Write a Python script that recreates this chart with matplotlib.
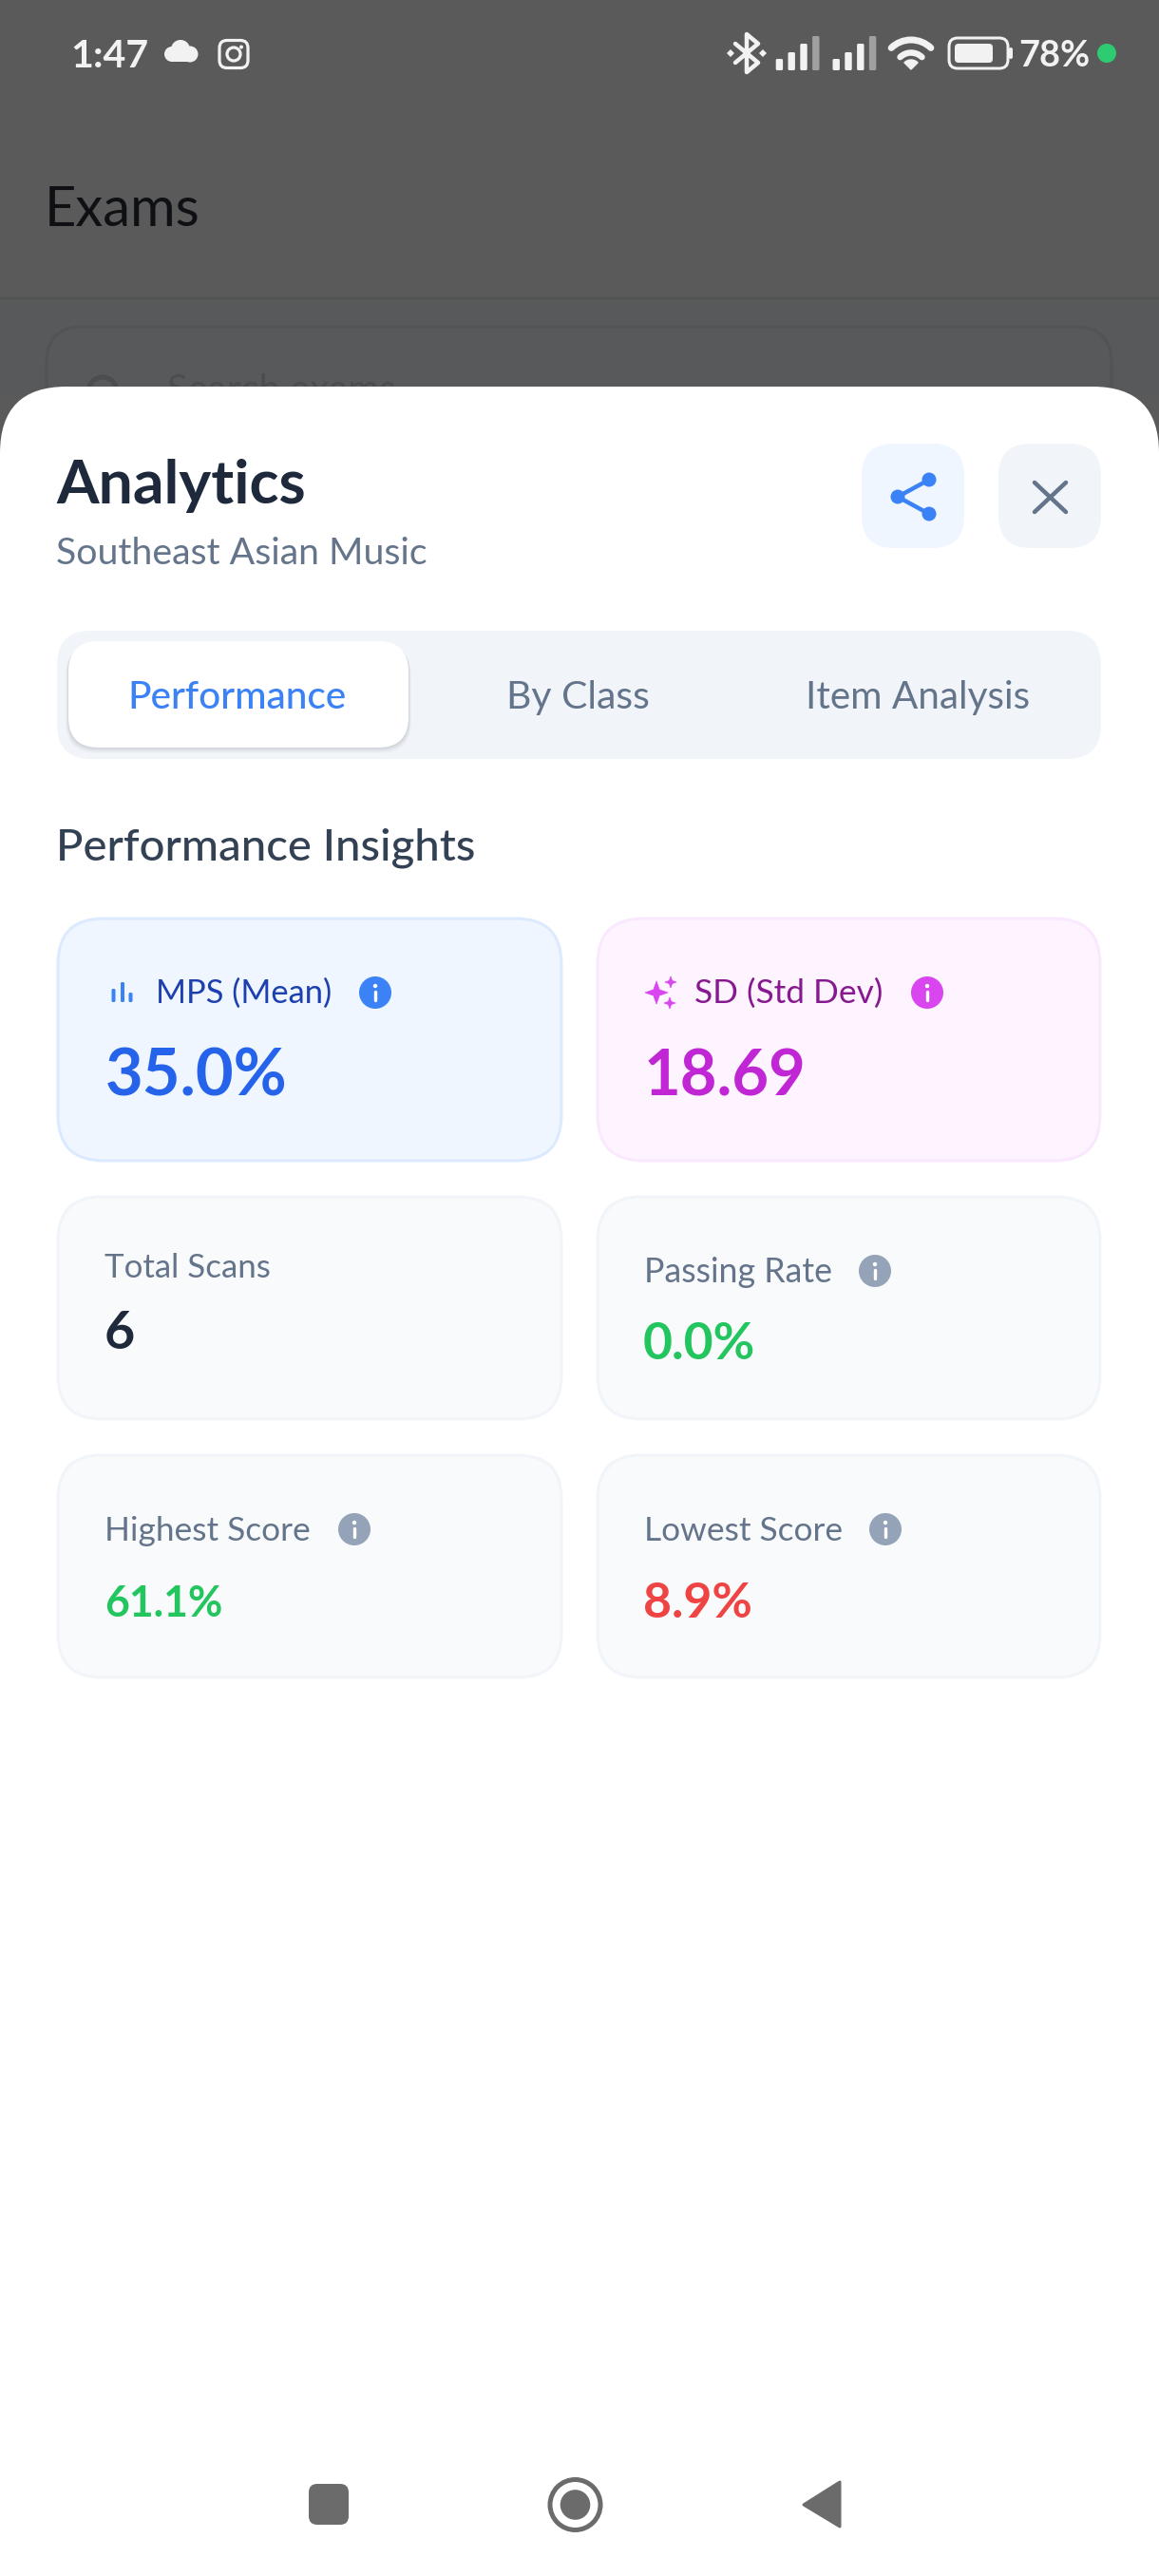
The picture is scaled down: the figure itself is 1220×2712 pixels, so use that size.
import matplotlib
matplotlib.use("Agg")
import matplotlib.pyplot as plt
from matplotlib.patches import FancyBboxPatch, Circle, Polygon, Arc, Wedge, Rectangle
from matplotlib.textpath import TextPath
from matplotlib.font_manager import FontProperties

# ---- content ----
status_time = "1:47"
battery_pct = 78
screen_title = "Exams"
search_hint = "Search exams"
sheet_title = "Analytics"
sheet_subtitle = "Southeast Asian Music"
tab_labels = ["Performance", "By Class", "Item Analysis"]
section_title = "Performance Insights"
mps_mean = 35.0
std_dev = 18.69
total_scans = 6
passing_rate = 0.0
highest_score = 61.1
lowest_score = 8.9

FONT = "Lato"
W, H = 1220, 2712
fig = plt.figure(figsize=(W / 100, H / 100), dpi=100, facecolor="#5a5a5a")
ax = fig.add_axes([0, 0, 1, 1])
ax.set_xlim(0, W)
ax.set_ylim(H, 0)
ax.axis("off")


def px(v):
    return v * 0.72


def fit(s, x, base, width, color, weight="normal", ha="left", va="baseline", z=5, family=FONT):
    """Text whose size is chosen so that it spans `width` pixels."""
    fp = FontProperties(family=family, weight=weight)
    w = TextPath((0, 0), s, size=100, prop=fp).get_extents().width
    size_px = 100 * width / w
    return ax.text(x, base, s, fontsize=px(size_px), color=color, ha=ha, va=va,
                   fontweight=weight, family=family, zorder=z)


def box(x0, y0, x1, y1, r, fc, ec="none", lw=0, z=2, alpha=None):
    p = FancyBboxPatch((x0, y0), x1 - x0, y1 - y0, boxstyle=f"round,pad=0,rounding_size={r}",
                       fc=fc, ec=ec, lw=px(lw), zorder=z, alpha=alpha)
    ax.add_patch(p)
    return p


def info(cx, cy, color, r=17):
    ax.add_patch(Circle((cx, cy), r, fc=color, ec="none", zorder=5))
    ax.add_patch(Circle((cx, cy - 7), 2.2, fc="white", ec="none", zorder=6))
    ax.plot([cx, cx], [cy - 1, cy + 8], color="white", lw=px(3.4), solid_capstyle="round", zorder=6)


def star(cx, cy, r, color):
    k = 0.26 * r
    ax.add_patch(Polygon([(cx, cy - r), (cx + k, cy - k), (cx + r, cy), (cx + k, cy + k),
                          (cx, cy + r), (cx - k, cy + k), (cx - r, cy), (cx - k, cy - k)],
                         closed=True, fc=color, ec=color, lw=0.5, joinstyle="round", zorder=5))


# ---- dimmed screen behind the sheet ----
ax.add_patch(Rectangle((0, 314), W, 100, fc="#58595a", ec="none", zorder=1))
ax.plot([0, W], [314, 314], color="#525252", lw=px(2.5), zorder=1.1)
box(49, 344, 1170, 520, 38, "#58595a", "#525354", 3, z=1.2)
fit(screen_title, 47, 238, 156, "#0e1013", z=2)
ax.add_patch(Circle((108, 412), 15, fc="none", ec="#4b4d4e", lw=px(5), zorder=1.5))
fit(search_hint, 176, 423, 238, "#4b4d4e", z=1.5)

# ---- status bar ----
ST = "#f2f2f2"
fit(status_time, 74, 71, 78, ST, weight="bold")
# cloud
for cx, cy, r in [(181, 57, 8), (190, 52, 10), (200, 57, 8.5)]:
    ax.add_patch(Circle((cx, cy), r, fc=ST, ec="none", zorder=5))
ax.add_patch(Rectangle((181, 55), 19, 10, fc=ST, ec="none", zorder=5))
# camera glyph
box(231, 42.5, 261, 71.5, 8, "none", ST, 3.2, z=5)
ax.add_patch(Circle((246, 57), 7, fc="none", ec=ST, lw=px(3.2), zorder=5))
ax.add_patch(Circle((254, 49.5), 2, fc=ST, ec="none", zorder=5))
# bluetooth
ax.plot([774, 798, 786, 786, 798, 774], [46, 66, 76, 36, 46, 66], color=ST, lw=px(4.5),
        solid_joinstyle="round", solid_capstyle="round", zorder=5)
for cx in (769, 803):
    ax.add_patch(Polygon([(cx - 4, 56), (cx, 52), (cx + 4, 56), (cx, 60)], fc=ST, ec="none", zorder=5))
# signal bars
for x0 in (816.7, 876.5):
    for i, top in enumerate((62, 55, 46, 38)):
        c = "#a0a0a0" if i == 3 else ST
        box(x0 + i * 12.8, top, x0 + i * 12.8 + 7.4, 74, 1.5, c, z=5)
# wifi
ax.add_patch(Arc((959, 72), 60, 60, theta1=226, theta2=314, color=ST, lw=px(7), capstyle="round", zorder=5))
ax.add_patch(Arc((959, 72), 33, 33, theta1=226, theta2=314, color=ST, lw=px(6.5), capstyle="round", zorder=5))
ax.add_patch(Wedge((959, 73), 10, 225, 315, fc=ST, ec=ST, lw=1, zorder=5))
# battery
box(999, 40, 1061, 72, 9, "none", ST, 3, z=5)
box(1005, 46, 1045, 66, 4, ST, z=5)
box(1062, 50, 1066, 62, 2, ST, z=5)
fit(f"{battery_pct}%", 1072, 70, 72, ST, weight="bold")
ax.add_patch(Circle((1165, 56), 10, fc="#2ecc71", ec="none", zorder=5))

# ---- bottom sheet ----
box(0, 407, W, H + 200, 70, "white", z=3)
fit(sheet_title, 59, 530, 261, "#1e293b", weight="bold")
fit(sheet_subtitle, 59, 594, 389, "#64748b")
box(907, 467, 1015, 577, 34, "#eff6ff", z=4)
box(1051, 467, 1159, 577, 34, "#f1f5f9", z=4)
# share icon
ax.plot([978, 945, 978], [505, 523, 541], color="#3b82f6", lw=px(4.5), zorder=5)
for cx, cy in [(978, 505), (945, 523), (978, 541)]:
    ax.add_patch(Circle((cx, cy), 7.5, fc="#3b82f6", ec="none", zorder=6))
# close icon
ax.plot([1089, 1122], [508, 539], color="#64748b", lw=px(4.5), solid_capstyle="round", zorder=5)
ax.plot([1122, 1089], [508, 539], color="#64748b", lw=px(4.5), solid_capstyle="round", zorder=5)

# ---- tabs ----
box(60, 664, 1159, 799, 36, "#f1f5f9", z=4)
for off, a in [(9, 0.015), (7, 0.025), (5, 0.035), (3, 0.05)]:
    box(72 - off / 3, 675 + off / 2, 430 + off / 3, 787 + off / 1.5, 32, "#0f172a", z=4.1, alpha=a)
box(72, 675, 430, 787, 32, "white", z=4.2)
tab_x = [250, 608.5, 966]
tab_w = [225, 146, 231]
tab_c = ["#3b82f6", "#64748b", "#64748b"]
for label, x, w, c in zip(tab_labels, tab_x, tab_w, tab_c):
    fit(label, x, 746, w, c, ha="center", weight="medium" if c == "#3b82f6" else "normal")

fit(section_title, 59, 906, 435, "#334155", weight="medium")

# ---- highlight cards ----
box(61, 967, 591, 1222, 48, "#eff6ff", "#dbeafe", 3, z=4)
box(629, 967, 1158, 1222, 48, "#fdf4ff", "#fae8ff", 3, z=4)
for x, top in zip((119.5, 129, 137.5), (1041, 1034, 1045)):
    box(x - 2, top, x + 2, 1055, 1.5, "#3b82f6", z=5)
fit("MPS (Mean)", 164, 1056, 181, "#1e40af")
info(395, 1045, "#3b82f6")
fit(f"{mps_mean:.1f}%", 111, 1154, 187, "#2563eb", weight="bold")

star(691, 1045, 12, "#d946ef")
star(706, 1034, 6, "#d946ef")
star(705, 1056, 6, "#d946ef")
fit("SD (Std Dev)", 731, 1056, 195, "#86198f")
info(976, 1045, "#d946ef")
fit(f"{std_dev:.2f}", 678, 1154, 163, "#c026d3", weight="bold")

# ---- plain cards ----
for x0, x1 in ((61, 591), (629, 1158)):
    for y0, y1 in ((1260, 1494), (1532, 1766)):
        box(x0, y0, x1, y1, 46, "#f8fafc", "#f1f5f9", 3, z=4)

GREY = "#64748b"
fit("Total Scans", 110, 1345, 173, GREY)
fit(f"{total_scans}", 110, 1420, 28, "#1e293b", weight="bold")
fit("Passing Rate", 678, 1350, 194, GREY)
info(921, 1338, "#94a3b8")
fit(f"{passing_rate:.1f}%", 677, 1431, 115, "#22c55e", weight="bold")
fit("Highest Score", 110, 1622, 212, GREY)
info(373, 1610, "#94a3b8")
fit(f"{highest_score:.1f}%", 110, 1702, 121, "#22c55e", weight="bold")
fit("Lowest Score", 678, 1622, 204, GREY)
info(932, 1610, "#94a3b8")
fit(f"{lowest_score:.1f}%", 677, 1703, 111, "#ef4444", weight="bold")

# ---- navigation bar ----
NAV = "#6b6b6b"
box(325, 2615, 367, 2658, 9, NAV, z=5)
ax.add_patch(Circle((605.5, 2637), 26.5, fc="none", ec=NAV, lw=px(5), zorder=5))
ax.add_patch(Circle((605.5, 2637), 15.8, fc=NAV, ec="none", zorder=5))
ax.add_patch(Polygon([(846, 2637), (884, 2613), (884, 2660)], closed=True, fc=NAV, ec=NAV, lw=px(3),
                     joinstyle="round", zorder=5))

fig.savefig("out.png", dpi=100, facecolor=fig.get_facecolor())
